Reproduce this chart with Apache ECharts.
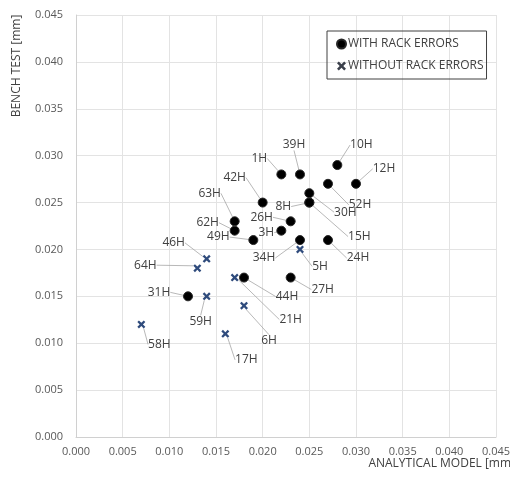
<!DOCTYPE html>
<html>
<head>
<meta charset="utf-8">
<script src="https://cdn.jsdelivr.net/npm/echarts@6/dist/echarts.min.js"></script>
<style>html,body{margin:0;padding:0;background:#fff;}#c{width:510px;height:477px;}</style>
</head>
<body>
<div id="c"></div>
<script>
// ---- data ----
var withLabels = ['1H','39H','10H','12H','52H','30H','15H','8H','42H','63H','62H','49H','26H','3H','34H','24H','27H','44H','31H'];
var withX = [0.022,0.024,0.028,0.030,0.027,0.025,0.025,0.025,0.020,0.017,0.017,0.019,0.023,0.022,0.024,0.027,0.023,0.018,0.012];
var withY = [0.028,0.028,0.029,0.027,0.027,0.026,0.025,0.025,0.025,0.023,0.022,0.021,0.023,0.022,0.021,0.021,0.017,0.017,0.015];

var withoutLabels = ['46H','64H','21H','59H','6H','17H','58H','5H'];
var withoutX = [0.014,0.013,0.017,0.014,0.018,0.016,0.007,0.024];
var withoutY = [0.019,0.018,0.017,0.015,0.014,0.011,0.012,0.020];

var xTicks = ['0.000','0.005','0.010','0.015','0.020','0.025','0.030','0.035','0.040','0.045'];
var yTicks = ['0.000','0.005','0.010','0.015','0.020','0.025','0.030','0.035','0.040','0.045'];

var seriesNames = ['WITH RACK ERRORS','WITHOUT RACK ERRORS'];
var xName = 'ANALYTICAL MODEL [mm]';
var yName = 'BENCH TEST [mm]';

// ---- label placement (layout only) ----
var labelOffset = {
  '1H':[-22,-16],'39H':[-6,-30],'10H':[24,-20],'12H':[28,-15],'52H':[32,21],'30H':[36,19],
  '15H':[50,34],'8H':[-26,4],'42H':[-28,-25],'63H':[-25,-28],'62H':[-27,-8],'49H':[-35,-3],
  '26H':[-29,-4],'3H':[-15,2],'34H':[-36,18],'24H':[30,18],'27H':[32,12],'44H':[43,19],
  '31H':[-29,-4],'46H':[-33,-16],'64H':[-52,-3],'21H':[56,42],'59H':[-6,25],'6H':[25,35],
  '17H':[21,26],'58H':[18,20],'5H':[20,17]
};

var FONT = 'Open Sans';
var crossPath = 'path://M2,0 L5,3 L8,0 L10,2 L7,5 L10,8 L8,10 L5,7 L2,10 L0,8 L3,5 L0,2 Z';

function mk(xs, ys, labels){
  return xs.map(function(x,i){ return {value:[x, ys[i]], name: labels[i]}; });
}
function layoutFn(labels){
  return function(p){
    var o = labelOffset[labels[p.dataIndex]] || [0,0];
    return {dx:o[0], dy:o[1]};
  };
}
var labelStyle = {show:true, position:'inside', formatter:function(p){return p.name;},
  color:'#404040', fontSize:12, fontFamily:FONT};
var lineStyle = {show:true, length2:0, lineStyle:{color:'#a6a6a6', width:0.8}};

var chart = echarts.init(document.getElementById('c'), null, {renderer:'canvas'});
chart.setOption({
  backgroundColor:'#ffffff',
  animation:false,
  textStyle:{fontFamily:FONT},
  grid:{left:76, right:14, top:15, bottom:40, containLabel:false, outerBoundsMode:'none'},
  legend:{
    orient:'vertical', left:327, top:31,
    borderColor:'#404040', borderWidth:1, borderRadius:0,
    padding:[7,3,7,9], itemGap:10, itemWidth:9, itemHeight:9,
    textStyle:{fontSize:12, color:'#404040', fontFamily:FONT, padding:[0,0,0,-3]},
    data:[
      {name:seriesNames[0], icon:'circle', itemStyle:{color:'#000000'}},
      {name:seriesNames[1], icon:crossPath, itemStyle:{color:'#3a3f4a'}}
    ]
  },
  xAxis:{
    type:'value', min:0, max:0.045, interval:0.005,
    name:xName, nameLocation:'end', nameGap:19,
    nameTextStyle:{align:'right', verticalAlign:'top', padding:[21,0,0,0], color:'#404040', fontSize:12, fontFamily:FONT},
    axisLine:{show:true, lineStyle:{color:'#d0d0d0'}},
    axisTick:{show:false},
    axisLabel:{margin:9, color:'#595959', fontSize:11, fontFamily:FONT,
      formatter:function(v){ return xTicks[Math.round(v/0.005)]; }},
    splitLine:{show:true, lineStyle:{color:'#e3e3e3'}}
  },
  yAxis:{
    type:'value', min:0, max:0.045, interval:0.005,
    name:yName, nameLocation:'middle', nameGap:53, nameRotate:90,
    nameTextStyle:{align:'center', padding:[0,0,0,320], color:'#404040', fontSize:12, fontFamily:FONT},
    axisLine:{show:true, lineStyle:{color:'#d0d0d0'}},
    axisTick:{show:false},
    axisLabel:{margin:13, color:'#595959', fontSize:11, fontFamily:FONT,
      formatter:function(v){ return yTicks[Math.round(v/0.005)]; }},
    splitLine:{show:true, lineStyle:{color:'#e3e3e3'}}
  },
  series:[
    {
      name:seriesNames[0], type:'scatter', symbol:'circle', symbolSize:9,
      itemStyle:{color:'#000000', borderColor:'#262626', borderWidth:1, opacity:1},
      data:mk(withX, withY, withLabels),
      label:labelStyle, labelLine:lineStyle,
      labelLayout:layoutFn(withLabels), z:3
    },
    {
      name:seriesNames[1], type:'scatter', symbol:crossPath, symbolSize:8,
      itemStyle:{color:'#2f4b7c', opacity:1},
      data:mk(withoutX, withoutY, withoutLabels),
      label:labelStyle, labelLine:lineStyle,
      labelLayout:layoutFn(withoutLabels), z:2
    }
  ]
});
</script>
</body>
</html>
